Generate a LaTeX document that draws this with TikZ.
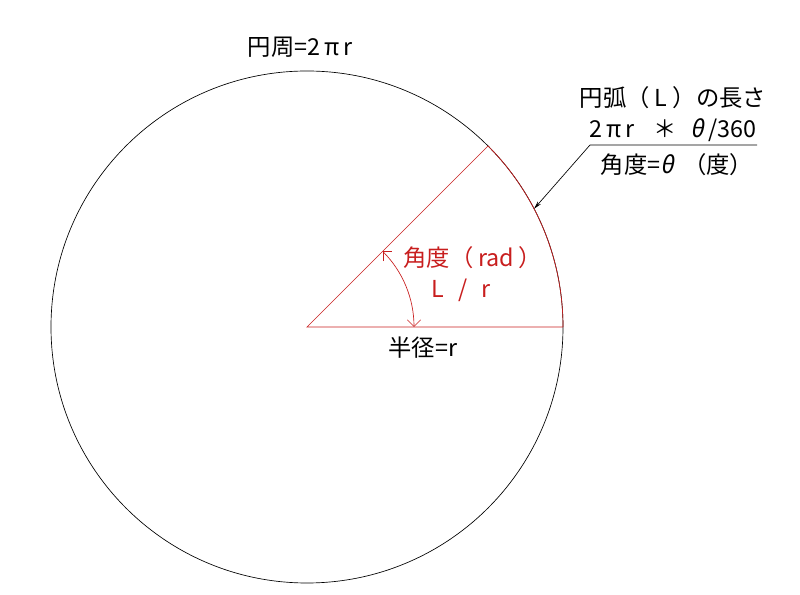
\documentclass[tikz,border=0pt]{standalone}
\usepackage{fontspec}
\setmainfont{Noto Sans CJK JP}
\newfontfamily\jpslant[FakeSlant=0.2]{Noto Sans CJK JP}
\usetikzlibrary{arrows.meta}
\definecolor{sectorred}{RGB}{200,30,30}
\tikzset{
  lbl/.style={font=\fontsize{17.5}{20}\selectfont, inner sep=1pt},
  redlbl/.style={lbl, text=sectorred},
  edge/.style={line width=0.5pt},
  rededge/.style={edge, draw=sectorred}
}
\begin{document}
\begin{tikzpicture}[x=0.75pt, y=0.75pt]
		\useasboundingbox (-307,-268) rectangle (493,327);

		% circle
		\coordinate (O) at (0,0);
		\draw[edge] (O) circle (256);

		% sector
		\coordinate (rimA) at (0:256);
		\coordinate (rimB) at (45:256);
		\draw[rededge] (rimB) -- (O) -- (rimA);
		\draw[rededge] (rimA) arc (0:45:256);

		% angle arrow
		\coordinate (angA) at (0:107);
		\draw[rededge, {Straight Barb[length=5pt]}-{Straight Barb[length=5pt]}] (angA) arc (0:45:107);

		% leader to arc length
		\coordinate (rimC) at (27.5:256);
		\coordinate (bend) at (283,182);
		\coordinate (tail) at (450,182);
		\draw[edge, -{Stealth[length=6pt, width=3pt]}] (tail) -- (bend) -- (rimC);

		% labels
		\node[lbl] (circum) at (-7,280) {円周=2\,π\,r};
		\node[lbl] (arcname) at (366,229) {円弧（ L ）の長さ};
		\node[lbl] (arcform) at (366,197) {2\,π\,r\hspace{0.8em}＊\hspace{0.6em}{\jpslant θ}\,/360};
		\node[lbl] (degree) at (370,162) {角度={\jpslant θ}\hspace{0.4em}（度）};
		\node[redlbl] (radname) at (166,69) {角度（\hspace{0.2em}rad\hspace{0.2em}）};
		\node[redlbl] (radform) at (154,37) {L\hspace{0.6em}/\hspace{0.6em}r};
		\node[lbl] (radius) at (116,-21) {半径=r};

\end{tikzpicture}
\end{document}
